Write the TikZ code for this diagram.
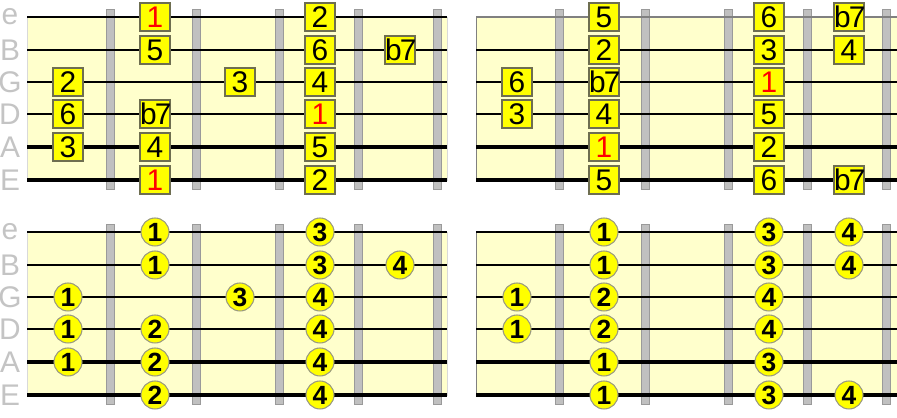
\documentclass[tikz,border=0pt]{standalone}
\usepackage{fontspec}
\setmainfont{Liberation Sans}
\definecolor{boardcream}{HTML}{FFFFCC}
\definecolor{fretgray}{HTML}{C0C0C0}
\definecolor{fretedge}{HTML}{9A9A9A}
\definecolor{noteyellow}{HTML}{FFFF00}
\definecolor{noteedge}{HTML}{6E6E50}
\definecolor{fingeredge}{HTML}{9A9A80}
\definecolor{labelgray}{HTML}{C4C4C4}

\begin{document}
\begin{tikzpicture}[x=0.02cm,y=-0.02cm,
  board/.style={fill=boardcream},
  fretbar/.style={fill=fretgray,draw=fretedge,line width=0.5pt},
  degree/.style={draw=noteedge,fill=noteyellow,line width=0.6pt,inner sep=0pt,
    text width=0.6cm,align=center,minimum height=0.56cm,font=\fontsize{17}{17}\selectfont},
  finger/.style={circle,draw=fingeredge,fill=noteyellow,line width=0.6pt,inner sep=0pt,
    minimum size=0.56cm,font=\bfseries\fontsize{15}{15}\selectfont},
  stringname/.style={text=labelgray,font=\fontsize{17}{17}\selectfont}]

\useasboundingbox (0,0) rectangle (897,418);

% fretboards: offset x / offset y / end of strings / outline
\foreach \ox/\oy/\right/\edge in {0/0/447/gray!30, 449/0/897/gray, 0/215/447/gray!30, 449/215/897/gray}{
  \filldraw[board,draw=\edge] ({27+\ox},{17+\oy}) rectangle (\right,{180+\oy});
  \foreach \fx in {110,196,279,358,437}
    \draw[fretbar] ({\fx+\ox-4},{9+\oy}) rectangle ({\fx+\ox+4},{189+\oy});
  \foreach \sy/\w in {17/2,50/2,82/3,114/3,147/4,180/5}
    \draw[line width=\w*0.567pt] ({27+\ox},{\sy+\oy}) -- (\right,{\sy+\oy});
}
\draw[gray,line width=1.2pt] (476,17) -- (897,17);

% string names
\foreach \oy/\p in {0/t,215/b}
  \foreach \l/\sy in {e/17,B/50,G/82,D/114,A/147,E/180}
    \node[stringname] (\p-\l) at (10,{\sy+\oy}) {\l};

% scale degrees, first shape
\foreach \x/\y/\t [count=\i] in {155/17/{\textcolor{red}{1}}, 320/17/2,
    155/50/5, 320/50/6, 400/50/{b\kern-1pt 7},
    68/82/2, 240/82/3, 320/82/4,
    68/114/6, 155/114/{b\kern-1pt 7}, 320/114/{\textcolor{red}{1}},
    68/147/3, 155/147/4, 320/147/5,
    155/180/{\textcolor{red}{1}}, 320/180/2}
  \node[degree] (tl-\i) at (\x,\y) {\t};

% scale degrees, second shape
\foreach \x/\y/\t [count=\i] in {604/17/5, 769/17/6, 849/17/{b\kern-1pt 7},
    604/50/2, 769/50/3, 849/50/4,
    517/82/6, 604/82/{b\kern-1pt 7}, 769/82/{\textcolor{red}{1}},
    517/114/3, 604/114/4, 769/114/5,
    604/147/{\textcolor{red}{1}}, 769/147/2,
    604/180/5, 769/180/6, 849/180/{b\kern-1pt 7}}
  \node[degree] (tr-\i) at (\x,\y) {\t};

% fingering, first shape
\foreach \x/\y/\t [count=\i] in {155/232/1, 320/232/3,
    155/265/1, 320/265/3, 400/265/4,
    68/297/1, 240/297/3, 320/297/4,
    68/329/1, 155/329/2, 320/329/4,
    68/362/1, 155/362/2, 320/362/4,
    155/395/2, 320/395/4}
  \node[finger] (bl-\i) at (\x,\y) {\t};

% fingering, second shape
\foreach \x/\y/\t [count=\i] in {604/232/1, 769/232/3, 849/232/4,
    604/265/1, 769/265/3, 849/265/4,
    517/297/1, 604/297/2, 769/297/4,
    517/329/1, 604/329/2, 769/329/4,
    604/362/1, 769/362/3,
    604/395/1, 769/395/3, 849/395/4}
  \node[finger] (br-\i) at (\x,\y) {\t};
\end{tikzpicture}
\end{document}
